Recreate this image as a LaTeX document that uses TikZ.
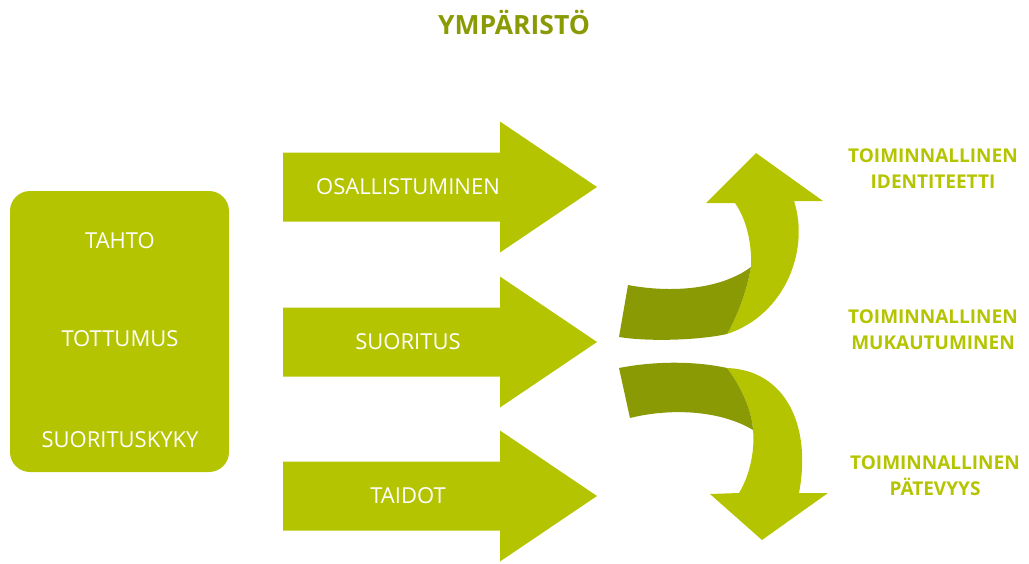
\documentclass[tikz,border=0pt]{standalone}
\usepackage{fontspec}
\setmainfont{Open Sans}
\definecolor{envLight}{RGB}{181,196,0}
\definecolor{envDark}{RGB}{138,154,5}

\begin{document}
\begin{tikzpicture}[x=1pt, y=-1pt]
  \tikzset{
    box text/.style={text=white, font=\fontsize{22}{26}\selectfont},
    out text/.style={text=envLight, align=center, font=\bfseries\fontsize{19}{26}\selectfont},
  }
  \useasboundingbox (0,0) rectangle (1029,563);
  \node[text=envDark, font=\bfseries\fontsize{26.5}{30}\selectfont] (ymparisto) at (514,22) {YMPÄRISTÖ};

  % left block
  \fill[envLight, rounded corners=20] (10,191) rectangle (229,472);
  \node[box text] (tahto) at (120,241) {TAHTO};
  \node[box text] (tottumus) at (120,339) {TOTTUMUS};
  \node[box text] (suorituskyky) at (120,440) {SUORITUSKYKY};

  % straight arrows
  \foreach \name/\txt/\y in {osallistuminen/OSALLISTUMINEN/187, suoritus/SUORITUS/342, taidot/TAIDOT/496} {
    \fill[envLight] (283,\y-34.5) -- (500,\y-34.5) -- (500,\y-65.5) -- (597,\y)
      -- (500,\y+65.5) -- (500,\y+34.5) -- (283,\y+34.5) -- cycle;
    \node[box text] (\name) at (408,\y) {\txt};
  }

  % upper curved arrow
  \fill[envLight] (727,334) .. controls (785,315) and (810,250) .. (794,201)
    -- (823,201) -- (756,153) -- (706,203) -- (735,203)
    .. controls (747,220) and (752,245) .. (751,267)
    .. controls (747,290) and (738,315) .. (727,334) -- cycle;
  \fill[envDark] (628,285) .. controls (670,293) and (720,290) .. (751,267)
    .. controls (747,290) and (738,315) .. (727,334)
    .. controls (700,340) and (650,342) .. (619,337) -- cycle;

  % lower curved arrow
  \fill[envLight] (727,368) .. controls (785,370) and (812,425) .. (799,493)
    -- (828,493) -- (762,540) -- (710,494) -- (739,493)
    .. controls (750,475) and (755,450) .. (753,430)
    .. controls (752,410) and (740,385) .. (727,368) -- cycle;
  \fill[envDark] (619,368) .. controls (660,360) and (700,362) .. (727,368)
    .. controls (740,385) and (752,410) .. (753,430)
    .. controls (720,410) and (670,408) .. (630,418) -- cycle;

  % outcomes
  \node[out text] (identiteetti) at (933,169) {TOIMINNALLINEN\\IDENTITEETTI};
  \node[out text] (mukautuminen) at (933,330) {TOIMINNALLINEN\\MUKAUTUMINEN};
  \node[out text] (patevyys) at (935,476) {TOIMINNALLINEN\\PÄTEVYYS};
\end{tikzpicture}
\end{document}
